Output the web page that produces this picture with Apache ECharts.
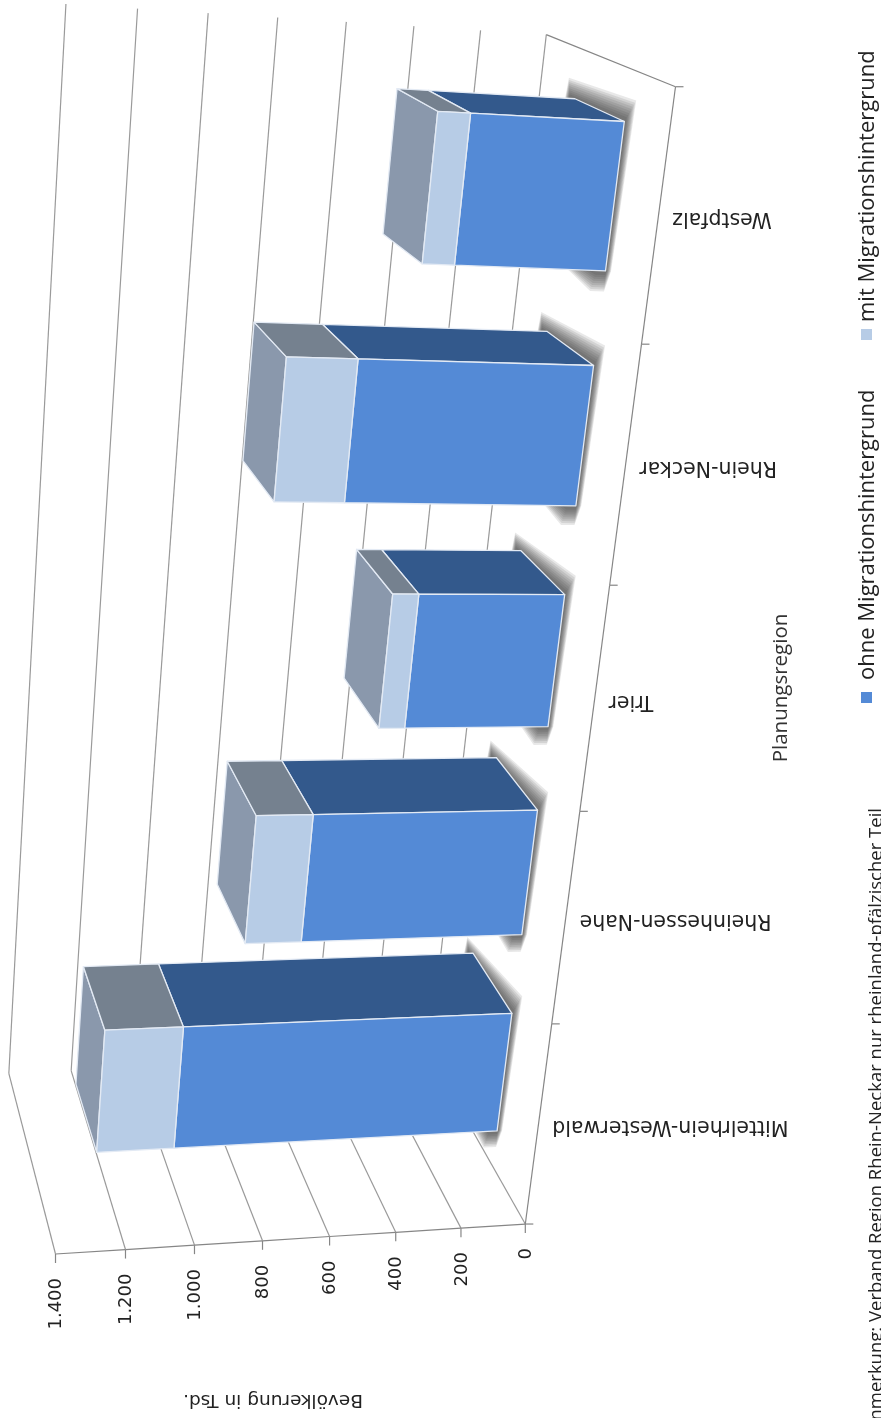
<!DOCTYPE html>
<html><head><meta charset="utf-8">
<style>html,body{margin:0;padding:0;background:#fff}#c{width:881px;height:1418px}</style>
<script src="https://cdn.jsdelivr.net/npm/echarts@6/dist/echarts.min.js"></script>
</head><body><div id="c"></div>
<script>
const categories = ['Mittelrhein-Westerwald','Rheinhessen-Nahe','Trier','Rhein-Neckar','Westpfalz'];
const ohneMigration = [1007,677,432,672,430];
const mitMigration  = [231,167,76,198,90];
const valueTicks = [0,200,400,600,800,1000,1200,1400];
const valueTickLabels = ['0','200','400','600','800','1.000','1.200','1.400'];
const seriesNames = ['ohne Migrationshintergrund','mit Migrationshintergrund'];
const valueAxisTitle = 'Bevölkerung in Tsd.';
const categoryAxisTitle = 'Planungsregion';
const note = 'Anmerkung: Verband Region Rhein-Neckar nur rheinland-pfälzischer Teil';

const W=881,H=1418,VMAX=1400,NC=categories.length;
// camera calibration of the tilted 3D box: [value, boundary index, depth, screen x, screen y]
const cameraAnchors=[
 [0,0,0,523,1223],[200,0,0,459,1228],[400,0,0,394,1233],[600,0,0,328,1236],[800,0,0,261,1241],[1000,0,0,194,1245],[1200,0,0,125,1249],[1400,0,0,56,1254],
 [1400,0,1,11,1075],[1200,0,1,72,1071],[1000,0,1,132,1067],
 [0,5,1,545,35],[200,5,1,480,30],[400,5,1,413,26],[600,5,1,346,22],[800,5,1,278,17],[1000,5,1,208,13],[1200,5,1,138,8],[1400,5,1,66,4],
 [0,1,0,557,1025],[0,2,0,583,810],[0,3,0,612,585],[0,4,0,643,345],[0,5,0,673,88]
];
function fitCamera(){
 const A=[],b=[];
 cameraAnchors.forEach(([v,c,d,x,y])=>{
  const X=v/VMAX,Y=c/NC,Z=d,sx=x/1000,sy=y/1000;
  A.push([X,Y,Z,1,0,0,0,0,-sx*X,-sx*Y,-sx*Z]);b.push(sx);
  A.push([0,0,0,0,X,Y,Z,1,-sy*X,-sy*Y,-sy*Z]);b.push(sy);
 });
 const n=11,M=[];
 for(let i=0;i<n;i++){M.push(new Array(n+1).fill(0));
  for(let j=0;j<n;j++)for(let r=0;r<A.length;r++)M[i][j]+=A[r][i]*A[r][j];
  for(let r=0;r<A.length;r++)M[i][n]+=A[r][i]*b[r];}
 for(let i=0;i<n;i++){let p=i;for(let r=i+1;r<n;r++)if(Math.abs(M[r][i])>Math.abs(M[p][i]))p=r;
  [M[i],M[p]]=[M[p],M[i]];
  for(let r=0;r<n;r++){if(r===i)continue;const f=M[r][i]/M[i][i];for(let j=i;j<=n;j++)M[r][j]-=f*M[i][j];}}
 return M.map((row,i)=>row[n]/row[i]);
}
const cam=fitCamera();
function project(nx,ny,d){
 const w=cam[8]*nx+cam[9]*ny+cam[10]*d+1;
 return [1000*(cam[0]*nx+cam[1]*ny+cam[2]*d+cam[3])/w,1000*(cam[4]*nx+cam[5]*ny+cam[6]*d+cam[7])/w];
}
// point through the chart's own scales: value v, category i, offset inside the band, depth d
function pt(api,v,i,off,d){
 const b=api.coord([v,i]);
 return project(b[0]/W,(H-b[1])/H+off/NC,d);
}
const C0=-0.313,C1=0.292,D0=0.315,D1=0.705;
const edge='#e3eaf4';
function poly(points,fill,stroke){return {type:'polygon',shape:{points},style:{fill,stroke:stroke||edge,lineWidth:1.3,lineJoin:'round'}};}
function line(a,b,color,w){return {type:'line',shape:{x1:a[0],y1:a[1],x2:b[0],y2:b[1]},style:{stroke:color||'#9a9a9a',lineWidth:w||1.2}};}
function label(text,x,y,rotation,font,align,fill){return {type:'text',x,y,rotation,style:{text,font,align,verticalAlign:'middle',fill:fill||'#222'}};}

const serif='"DejaVu Sans",sans-serif',narrow='"Open Sans",sans-serif';
const shadowLayers=[1,0.9,0.8,0.7,0.6,0.5,0.4,0.3,0.2];
const option={
 animation:false,backgroundColor:'#fff',
 grid:{left:0,top:0,width:W,height:H},
 xAxis:{type:'value',min:0,max:VMAX,interval:200,show:false},
 yAxis:{type:'category',data:categories,show:false},
 series:[
 {name:'Werteachse',type:'custom',silent:true,coordinateSystem:'cartesian2d',z:1,
  data:valueTicks.map((v,k)=>[v,0,k]),
  renderItem(p,api){
   const v=api.value(0),k=api.value(2);
   const a=pt(api,v,0,-0.5,0),b=pt(api,v,0,-0.5,1),c=pt(api,v,NC-1,0.5,1);
   const ch=[line(a,b),line(b,c),line(a,[a[0],a[1]+9],'#868686'),
     label(valueTickLabels[k],a[0]+1,a[1]+24,Math.PI/2,'18px '+serif,'right')];
   if(k<valueTicks.length-1){ch.push(line(a,pt(api,valueTicks[k+1],0,-0.5,0),'#868686'));}
   return {type:'group',children:ch};
  }},
 {name:'Kategorieachse',type:'custom',silent:true,coordinateSystem:'cartesian2d',z:1,
  data:categories.map((n,i)=>[0,i]),
  renderItem(p,api){
   const i=api.value(1);
   const a=pt(api,0,i,-0.5,0),b=pt(api,0,i,0.5,0),m=pt(api,0,i,0,0);
   const ch=[line(a,b,'#868686'),line(b,[b[0]+8,b[1]],'#868686'),
     label(categories[i],m[0]+14,m[1]+1,Math.PI,'20.5px '+serif,'right')];
   if(i===0)ch.push(line(a,[a[0]+8,a[1]],'#868686'));
   if(i===NC-1){const back=pt(api,0,i,0.5,1);ch.push(line(b,back,'#868686'));}
   return {type:'group',children:ch};
  }},
 {name:'Schatten',type:'custom',silent:true,coordinateSystem:'cartesian2d',z:2,
  data:categories.map((n,i)=>[0,i]),
  renderItem(p,api){
   const i=api.value(1);
   return {type:'group',children:shadowLayers.map(t=>{
    const pts=[pt(api,15+10*t,i,C1+0.085*t,D1),pt(api,-26*t,i,C1+0.085*t,D0),pt(api,-16*t,i,C0,D0),pt(api,-3*t,i,C0-0.085*t,D0),pt(api,25+12*t,i,C0-0.085*t,D0),pt(api,60,i,C0,D1)];
    return {type:'polygon',shape:{points:pts},style:{fill:'rgba(45,45,45,0.11)'}};
   })};
  }},
 {name:seriesNames[0],type:'custom',silent:true,coordinateSystem:'cartesian2d',z:3,
  data:ohneMigration.map((v,i)=>[v,i]),
  renderItem(p,api){
   const v=api.value(0),i=api.value(1);
   return {type:'group',children:[
    poly([pt(api,0,i,C1,D0),pt(api,v,i,C1,D0),pt(api,v,i,C1,D1),pt(api,0,i,C1,D1)],'#33598c'),
    poly([pt(api,0,i,C0,D0),pt(api,v,i,C0,D0),pt(api,v,i,C1,D0),pt(api,0,i,C1,D0)],'#548ad6')
   ]};
  }},
 {name:seriesNames[1],type:'custom',silent:true,coordinateSystem:'cartesian2d',z:4,
  data:mitMigration.map((v,i)=>[v,i]),
  renderItem(p,api){
   const v=api.value(0),i=api.value(1),s=ohneMigration[i],t=s+v;
   return {type:'group',children:[
    poly([pt(api,t,i,C0,D0),pt(api,t,i,C1,D0),pt(api,t,i,C1,D1),pt(api,t,i,C0,D1)],'#8a98ac'),
    poly([pt(api,s,i,C1,D0),pt(api,t,i,C1,D0),pt(api,t,i,C1,D1),pt(api,s,i,C1,D1)],'#75818f'),
    poly([pt(api,s,i,C0,D0),pt(api,t,i,C0,D0),pt(api,t,i,C1,D0),pt(api,s,i,C1,D0)],'#b7cce6')
   ]};
  }}
 ],
 graphic:[
  {type:'text',x:273,y:1400,rotation:Math.PI,style:{text:valueAxisTitle,font:'18.5px '+serif,align:'center',verticalAlign:'middle',fill:'#222'}},
  {type:'text',x:781,y:688,rotation:Math.PI/2,style:{text:categoryAxisTitle,font:'20.5px '+narrow,align:'center',verticalAlign:'middle',fill:'#333'}},
  {type:'rect',shape:{x:861,y:692,width:11,height:11},style:{fill:'#548ad6'}},
  {type:'text',x:868,y:680,rotation:Math.PI/2,style:{text:seriesNames[0],font:'22px '+narrow,align:'left',verticalAlign:'middle',fill:'#222'}},
  {type:'rect',shape:{x:861,y:329,width:11,height:11},style:{fill:'#b7cce6'}},
  {type:'text',x:868,y:322,rotation:Math.PI/2,style:{text:seriesNames[1],font:'22px '+narrow,align:'left',verticalAlign:'middle',fill:'#222'}},
  {type:'text',x:877,y:808,rotation:Math.PI/2,style:{text:note,font:'18.5px '+narrow,align:'right',verticalAlign:'middle',fill:'#222'}}
 ]
};
const chart=echarts.init(document.getElementById('c'),null,{renderer:'canvas'});
chart.setOption(option);
</script></body></html>
